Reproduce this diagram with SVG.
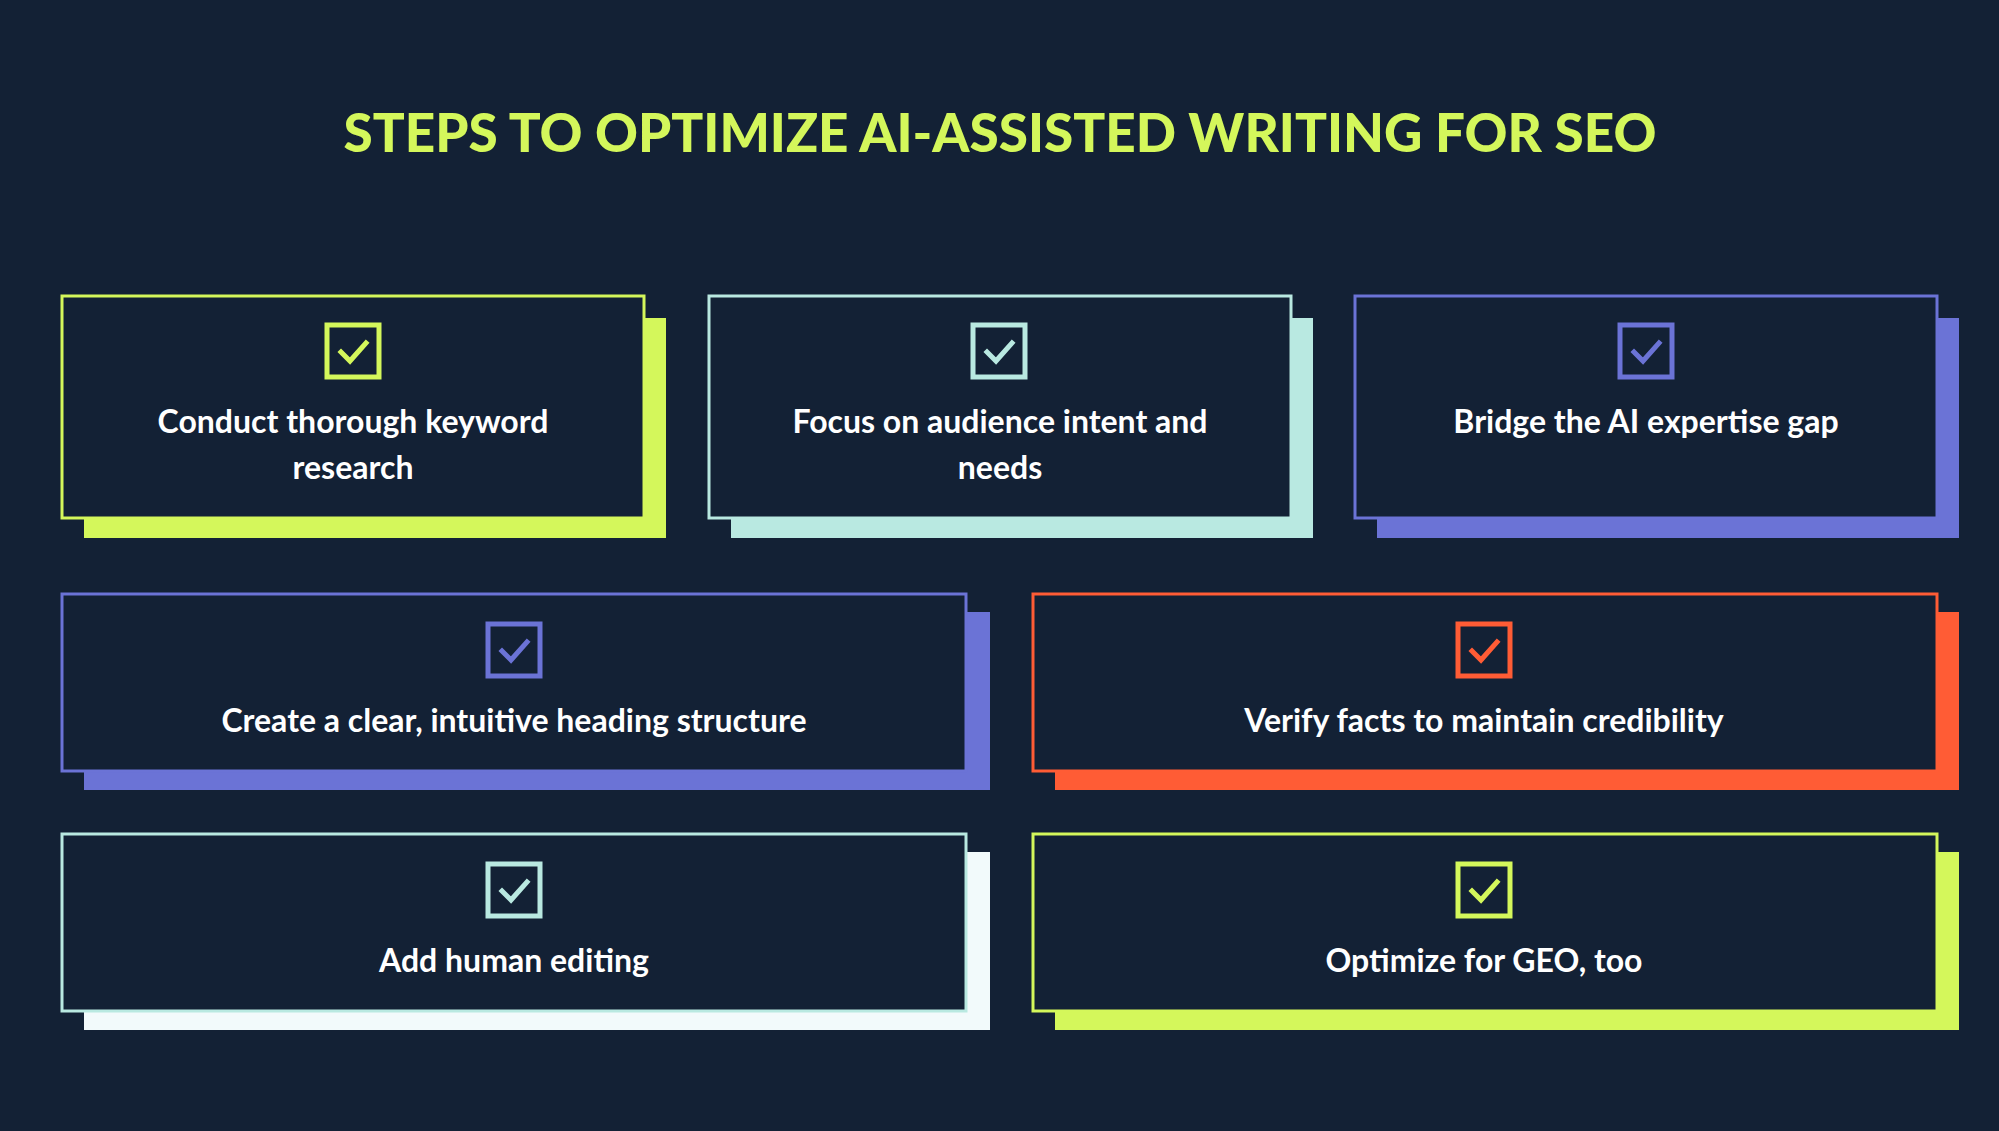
<svg xmlns="http://www.w3.org/2000/svg" width="1999" height="1131" viewBox="0 0 1999 1131">
<style>
.bg{fill:#132135}
.card{fill:#132135;stroke-width:3}
.t{font-family:Lato,"Open Sans",sans-serif;font-weight:700;font-size:32px;fill:#ffffff;text-anchor:middle}
.chk{fill:none;stroke-width:5}
.tick{fill:none;stroke-width:5;stroke-linecap:square}
</style>
<rect class="bg" width="1999" height="1131"/>
<text x="1000" y="152" font-family="Lato,'Open Sans',sans-serif" font-weight="900" font-size="53" fill="#d4f75b" text-anchor="middle">STEPS TO OPTIMIZE AI-ASSISTED WRITING FOR SEO</text>
<g id="card1">
<rect x="84" y="318" width="582" height="220" fill="#d4f75b"/>
<rect class="card" x="62" y="296" width="582" height="222" stroke="#d4f75b"/>
<rect class="chk" x="327" y="325" width="52" height="52" stroke="#d4f75b"/>
<path class="tick" d="M341 352 L350 361 L366 343" stroke="#d4f75b"/>
<text class="t" x="353" y="433">Conduct thorough keyword</text>
<text class="t" x="353" y="479">research</text>
</g>
<g id="card2">
<rect x="731" y="318" width="582" height="220" fill="#b9e9e1"/>
<rect class="card" x="709" y="296" width="582" height="222" stroke="#b9e9e1"/>
<rect class="chk" x="973" y="325" width="52" height="52" stroke="#b9e9e1"/>
<path class="tick" d="M987 352 L996 361 L1012 343" stroke="#b9e9e1"/>
<text class="t" x="1000" y="433">Focus on audience intent and</text>
<text class="t" x="1000" y="479">needs</text>
</g>
<g id="card3">
<rect x="1377" y="318" width="582" height="220" fill="#6b73d6"/>
<rect class="card" x="1355" y="296" width="582" height="222" stroke="#6b73d6"/>
<rect class="chk" x="1620" y="325" width="52" height="52" stroke="#6b73d6"/>
<path class="tick" d="M1634 352 L1643 361 L1659 343" stroke="#6b73d6"/>
<text class="t" x="1646" y="433">Bridge the AI expertise gap</text>
</g>
<g id="card4">
<rect x="84" y="612" width="906" height="178" fill="#6b73d6"/>
<rect class="card" x="62" y="594" width="904" height="177" stroke="#6b73d6"/>
<rect class="chk" x="488" y="624" width="52" height="52" stroke="#6b73d6"/>
<path class="tick" d="M502 651 L511 660 L527 642" stroke="#6b73d6"/>
<text class="t" x="514" y="732">Create a clear, intuitive heading structure</text>
</g>
<g id="card5">
<rect x="1055" y="612" width="904" height="178" fill="#ff5c35"/>
<rect class="card" x="1033" y="594" width="904" height="177" stroke="#ff5c35"/>
<rect class="chk" x="1458" y="624" width="52" height="52" stroke="#ff5c35"/>
<path class="tick" d="M1472 651 L1481 660 L1497 642" stroke="#ff5c35"/>
<text class="t" x="1484" y="732">Verify facts to maintain credibility</text>
</g>
<g id="card6">
<rect x="84" y="852" width="906" height="178" fill="#f2fafb"/>
<rect class="card" x="62" y="834" width="904" height="177" stroke="#b9e9e1"/>
<rect class="chk" x="488" y="864" width="52" height="52" stroke="#b9e9e1"/>
<path class="tick" d="M502 891 L511 900 L527 882" stroke="#b9e9e1"/>
<text class="t" x="514" y="972">Add human editing</text>
</g>
<g id="card7">
<rect x="1055" y="852" width="904" height="178" fill="#d4f75b"/>
<rect class="card" x="1033" y="834" width="904" height="177" stroke="#d4f75b"/>
<rect class="chk" x="1458" y="864" width="52" height="52" stroke="#d4f75b"/>
<path class="tick" d="M1472 891 L1481 900 L1497 882" stroke="#d4f75b"/>
<text class="t" x="1484" y="972">Optimize for GEO, too</text>
</g>
<g id="connectors"/>
</svg>
